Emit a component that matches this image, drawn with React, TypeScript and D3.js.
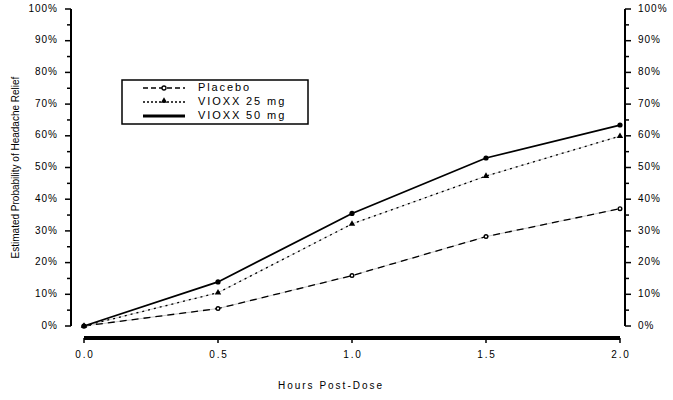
import React from 'react';
import * as d3 from 'd3';

// hours post-dose
const hours = [0, 0.5, 1.0, 1.5, 2.0];
// estimated probability of headache relief (fraction)
const placebo = [0, 0.055, 0.159, 0.282, 0.37];
const vioxx25 = [0, 0.105, 0.322, 0.473, 0.599];
const vioxx50 = [0, 0.139, 0.355, 0.53, 0.634];

const xTicks = [0, 0.5, 1.0, 1.5, 2.0];
const yMajor = [0, 0.1, 0.2, 0.3, 0.4, 0.5, 0.6, 0.7, 0.8, 0.9, 1.0];
const yMinor = [0.05, 0.15, 0.25, 0.35, 0.45, 0.55, 0.65, 0.75, 0.85, 0.95];

const W = 673, H = 400;
const font = '"Liberation Sans", Arial, sans-serif';

const App = () => {
    const x = d3.scaleLinear().domain([0, 2]).range([84, 620]);
    const y = d3.scaleLinear().domain([0, 1]).range([326, 9]);
    const leftX = 71, rightX = 625;

    const line = d3.line<number>()
        .x((_, i) => x(hours[i]))
        .y(d => y(d));

    const fmtPct = d3.format('.0%');
    const tri = d3.symbol().type(d3.symbolTriangle).size(18);

    return (
        <svg width={W} height={H} style={{ position: 'absolute', left: 0, top: 0, background: '#fff' }}
            fontFamily={font}>
            {/* y axis title */}
            <text transform={`translate(16,${y(0.5)}) rotate(-90)`} textAnchor="middle"
                dominantBaseline="middle" fontSize={10}>Estimated Probability of Headache Relief</text>

            {/* left axis */}
            <line x1={leftX} x2={leftX} y1={y(1)} y2={y(0)} stroke="#000" strokeWidth={2} />
            {yMajor.map(t => (
                <g key={'lm' + t}>
                    <line x1={leftX - 6} x2={leftX} y1={y(t)} y2={y(t)} stroke="#000" strokeWidth={1.5} />
                    <text x={58} y={y(t)} textAnchor="end" dominantBaseline="middle" fontSize={10}
                        letterSpacing={1}>{fmtPct(t)}</text>
                </g>
            ))}
            {yMinor.map(t => (
                <line key={'ln' + t} x1={leftX - 4} x2={leftX} y1={y(t)} y2={y(t)} stroke="#000" strokeWidth={1.5} />
            ))}

            {/* right axis */}
            <line x1={rightX} x2={rightX} y1={y(1)} y2={y(0)} stroke="#000" strokeWidth={2} />
            {yMajor.map(t => (
                <g key={'rm' + t}>
                    <line x1={rightX} x2={rightX + 6} y1={y(t)} y2={y(t)} stroke="#000" strokeWidth={1.5} />
                    <text x={638} y={y(t)} textAnchor="start" dominantBaseline="middle" fontSize={10}
                        letterSpacing={1}>{fmtPct(t)}</text>
                </g>
            ))}
            {yMinor.map(t => (
                <line key={'rn' + t} x1={rightX} x2={rightX + 4} y1={y(t)} y2={y(t)} stroke="#000" strokeWidth={1.5} />
            ))}

            {/* x axis */}
            <line x1={x(0)} x2={x(2)} y1={338} y2={338} stroke="#000" strokeWidth={4} />
            {xTicks.map(t => (
                <g key={'x' + t}>
                    <line x1={x(t)} x2={x(t)} y1={338} y2={343} stroke="#000" strokeWidth={1.5} />
                    <text x={x(t) + 1} y={355} textAnchor="middle" dominantBaseline="middle" fontSize={10}
                        letterSpacing={1.8}>{t.toFixed(1)}</text>
                </g>
            ))}
            <text x={331} y={386} textAnchor="middle" dominantBaseline="middle" fontSize={10}
                letterSpacing={2}>Hours Post-Dose</text>

            {/* placebo */}
            <path d={line(placebo)!} fill="none" stroke="#c8c8c8" strokeWidth={1} />
            <path d={line(placebo)!} fill="none" stroke="#000" strokeWidth={1.3} strokeDasharray="7,5" />
            {/* vioxx 25 */}
            <path d={line(vioxx25)!} fill="none" stroke="#d0d0d0" strokeWidth={1} />
            <path d={line(vioxx25)!} fill="none" stroke="#000" strokeWidth={1.3} strokeDasharray="2,4" />
            {/* vioxx 50 */}
            <path d={line(vioxx50)!} fill="none" stroke="#000" strokeWidth={1.8} />

            {placebo.map((v, i) => (
                <circle key={'p' + i} cx={x(hours[i])} cy={y(v)} r={1.8} fill="#fff" stroke="#000" strokeWidth={1.4} />
            ))}
            {vioxx25.map((v, i) => (
                <path key={'v25' + i} d={tri()!} transform={`translate(${x(hours[i])},${y(v)})`} fill="#000" />
            ))}
            {vioxx50.map((v, i) => (
                <circle key={'v50' + i} cx={x(hours[i])} cy={y(v)} r={2.6} fill="#000" />
            ))}

            {/* legend */}
            <rect x={122} y={80} width={186} height={44} fill="#fff" stroke="#000" strokeWidth={1.5} />
            <line x1={143} x2={185} y1={88} y2={88} stroke="#000" strokeWidth={1.3} strokeDasharray="5,3" />
            <circle cx={164} cy={88} r={2} fill="#fff" stroke="#000" strokeWidth={1.3} />
            <line x1={143} x2={185} y1={102} y2={102} stroke="#000" strokeWidth={1.3} strokeDasharray="2,2" />
            <path d={tri()!} transform="translate(164,101)" fill="#000" />
            <line x1={143} x2={185} y1={116} y2={116} stroke="#000" strokeWidth={3} />
            <text x={198} y={88} dominantBaseline="middle" fontSize={11} letterSpacing={1.9}>Placebo</text>
            <text x={198} y={102} dominantBaseline="middle" fontSize={11} letterSpacing={1.9}>VIOXX 25 mg</text>
            <text x={198} y={116} dominantBaseline="middle" fontSize={11} letterSpacing={1.9}>VIOXX 50 mg</text>
        </svg>
    );
};

export default App;
